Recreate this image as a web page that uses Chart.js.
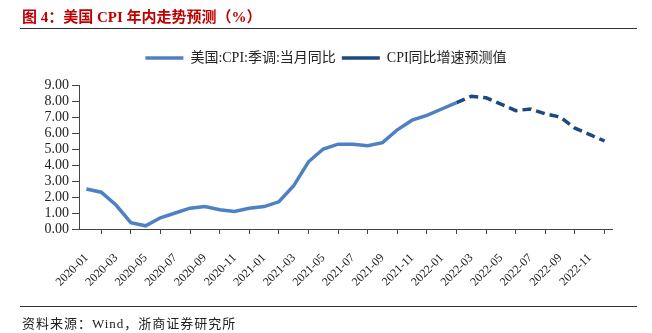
<!DOCTYPE html>
<html>
<head>
<meta charset="utf-8">
<script src="https://cdn.jsdelivr.net/npm/chart.js@4/dist/chart.umd.min.js"></script>
<style>
  html, body { margin: 0; padding: 0; background: #fff; }
  #wrap { position: relative; width: 652px; height: 333px; overflow: hidden; }
  #chart { position: absolute; left: 0; top: 0; }
  .title {
    position: absolute; left: 22px; top: 5px;
    font: bold 15px "Liberation Serif", "Noto Sans CJK SC", serif;
    color: #c00000; white-space: nowrap;
  }
  .rule { position: absolute; left: 20px; width: 617px; height: 1px; background: #333; }
  .source {
    position: absolute; left: 22px; top: 313px;
    font: 13px "Liberation Serif", "Noto Sans CJK SC", serif;
    letter-spacing: 1px;
    color: #222; white-space: nowrap;
  }
</style>
</head>
<body>
<div id="wrap">
  <canvas id="chart" width="652" height="333"></canvas>
  <div class="title">图 4：美国 CPI 年内走势预测（%）</div>
  <div class="rule" style="top:28px"></div>
  <div class="rule" style="top:306px"></div>
  <div class="source">资料来源：Wind，浙商证券研究所</div>
</div>
<script>
// 월별 카테고리 (2020-01 ~ 2022-12)
const months = [
  "2020-01","2020-02","2020-03","2020-04","2020-05","2020-06","2020-07","2020-08","2020-09","2020-10","2020-11","2020-12",
  "2021-01","2021-02","2021-03","2021-04","2021-05","2021-06","2021-07","2021-08","2021-09","2021-10","2021-11","2021-12",
  "2022-01","2022-02","2022-03","2022-04","2022-05","2022-06","2022-07","2022-08","2022-09","2022-10","2022-11","2022-12"
];

// 실제 CPI 동비 (계절조정)
const cpiActual = [
  2.5, 2.3, 1.5, 0.4, 0.2, 0.7, 1.0, 1.3, 1.4, 1.2, 1.1, 1.3,
  1.4, 1.7, 2.7, 4.2, 5.0, 5.3, 5.3, 5.2, 5.4, 6.2, 6.8, 7.1,
  7.5, 7.9, null, null, null, null, null, null, null, null, null, null
];

// 예측치
const cpiForecast = [
  null, null, null, null, null, null, null, null, null, null, null, null,
  null, null, null, null, null, null, null, null, null, null, null, null,
  null, 7.9, 8.3, 8.2, 7.8, 7.4, 7.5, 7.2, 7.0, 6.3, 5.9, 5.5
];

const serif = '"Liberation Serif", "Noto Sans CJK SC", serif';

// 범례 아래 여백을 늘리는 플러그인
const legendGap = {
  id: "legendGap",
  afterInit(chart) {
    const lg = chart.legend;
    if (!lg) return;
    const fit = lg.fit;
    lg.fit = function () {
      fit.call(this);
      this.height += 10;
    };
  }
};

new Chart(document.getElementById("chart"), {
  type: "line",
  data: {
    labels: months,
    datasets: [
      {
        label: "美国:CPI:季调:当月同比",
        data: cpiActual,
        borderColor: "#4f81c2",
        backgroundColor: "#4f81c2",
        borderWidth: 3.5,
        pointRadius: 0,
        tension: 0,
        pointStyle: "line"
      },
      {
        label: "CPI同比增速预测值",
        data: cpiForecast,
        borderColor: "#1c4a80",
        backgroundColor: "#1c4a80",
        borderWidth: 3.5,
        borderDash: [9, 5],
        pointRadius: 0,
        tension: 0,
        pointStyle: "line"
      }
    ]
  },
  plugins: [legendGap],
  options: {
    responsive: false,
    animation: false,
    layout: { padding: { left: 40, right: 40, top: 45, bottom: 0 } },
    plugins: {
      tooltip: { enabled: false },
      legend: {
        position: "top",
        labels: {
          usePointStyle: true,
          pointStyleWidth: 38,
          boxHeight: 14,
          padding: 6,
          color: "#222",
          font: { family: serif, size: 14 }
        }
      }
    },
    scales: {
      x: {
        offset: true,
        grid: { offset: true, drawOnChartArea: false, tickLength: 5, color: "#444" },
        border: { color: "#444", width: 1 },
        ticks: {
          autoSkip: false,
          minRotation: 45,
          maxRotation: 45,
          padding: 17,
          color: "#222",
          font: { family: serif, size: 12 },
          callback: function (value, index) {
            return index % 2 === 0 ? months[index] : null;
          }
        },
        afterFit: function (scale) { scale.height = 104; }
      },
      y: {
        min: 0,
        max: 9,
        grid: { drawOnChartArea: false, tickLength: 7, color: "#444" },
        border: { color: "#444", width: 1 },
        ticks: {
          stepSize: 1,
          autoSkip: false,
          padding: 3,
          color: "#222",
          font: { family: serif, size: 14 },
          callback: function (value) { return value.toFixed(2); }
        },
        afterFit: function (scale) { scale.width = 39; }
      }
    }
  }
});
</script>
</body>
</html>
